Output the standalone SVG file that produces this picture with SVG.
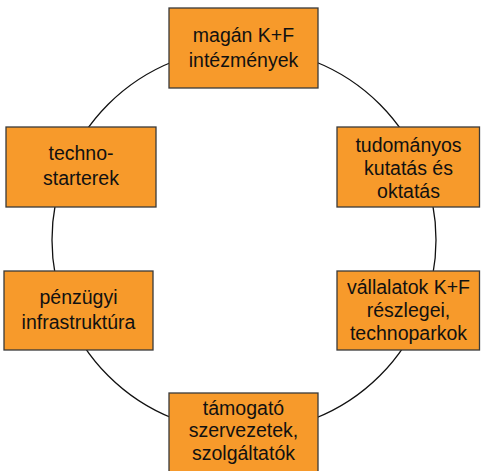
<svg xmlns="http://www.w3.org/2000/svg" width="481" height="471" viewBox="0 0 481 471">
<style>
.box{fill:#F79A2B;stroke:#3a3a3a;stroke-width:1.3}
.t{font-family:"Liberation Sans",Arial,sans-serif;font-size:19.5px;fill:#111;text-anchor:middle}
.c{fill:none;stroke:#111;stroke-width:1.3}
</style>
<rect width="481" height="471" fill="#fff"/>
<g id="connectors">
<circle class="c" cx="244" cy="240" r="192"/>
</g>
<g id="n1">
<rect class="box" x="169" y="8" width="149" height="80"/>
<text class="t" x="243.5" y="42">magán K+F</text>
<text class="t" x="243.5" y="67">intézmények</text>
</g>
<g id="n2">
<rect class="box" x="337" y="127" width="142.5" height="80"/>
<text class="t" x="408.5" y="152">tudományos</text>
<text class="t" x="408.5" y="175">kutatás és</text>
<text class="t" x="408.5" y="198">oktatás</text>
</g>
<g id="n3">
<rect class="box" x="337" y="271" width="142.5" height="79"/>
<text class="t" x="408.5" y="294">vállalatok K+F</text>
<text class="t" x="408.5" y="317">részlegei,</text>
<text class="t" x="408.5" y="340">technoparkok</text>
</g>
<g id="n4">
<rect class="box" x="169" y="393" width="149" height="80"/>
<text class="t" x="243.5" y="415">támogató</text>
<text class="t" x="243.5" y="437">szervezetek,</text>
<text class="t" x="243.5" y="460">szolgáltatók</text>
</g>
<g id="n5">
<rect class="box" x="4" y="271" width="149" height="79"/>
<text class="t" x="78.5" y="304">pénzügyi</text>
<text class="t" x="78.5" y="329">infrastruktúra</text>
</g>
<g id="n6">
<rect class="box" x="6" y="127" width="150" height="80"/>
<text class="t" x="81" y="160">techno-</text>
<text class="t" x="81" y="185">starterek</text>
</g>
</svg>
